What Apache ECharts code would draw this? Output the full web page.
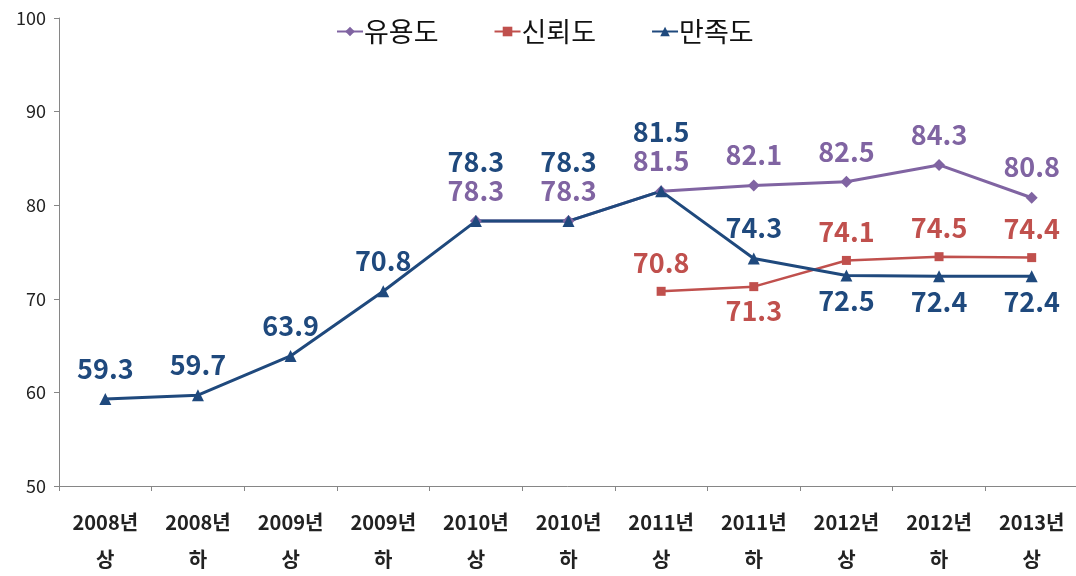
<!DOCTYPE html>
<html>
<head>
<meta charset="utf-8">
<script src="https://cdn.jsdelivr.net/npm/echarts@6/dist/echarts.min.js"></script>
<style>
  html, body { margin: 0; padding: 0; background: #fff; }
  #chart { width: 1076px; height: 576px; }
</style>
</head>
<body>
<div id="chart"></div>
<script>
// periods (year + half)
const years = ['2008년', '2008년', '2009년', '2009년', '2010년', '2010년', '2011년', '2011년', '2012년', '2012년', '2013년']
const halves = ['상', '하', '상', '하', '상', '하', '상', '하', '상', '하', '상']

const usefulness = [null, null, null, null, 78.3, 78.3, 81.5, 82.1, 82.5, 84.3, 80.8]   // 유용도
const trust = [null, null, null, null, null, null, 70.8, 71.3, 74.1, 74.5, 74.4]        // 신뢰도
const satisfaction = [59.3, 59.7, 63.9, 70.8, 78.3, 78.3, 81.5, 74.3, 72.5, 72.4, 72.4] // 만족도

const yTicks = [50, 60, 70, 80, 90, 100]

const categories = years.map((y, i) => y + '\n' + halves[i])

const FONT = '"Noto Sans CJK KR", "Noto Sans", sans-serif'
const PURPLE = '#8064a2'
const RED = '#c0504d'
const BLUE = '#1f497d'

// which labels sit below the point / get pushed up
const trustBelow = [7]
const satBelow = [8, 9, 10]
const satHigh = [4, 5, 6]

function labelStyle(color) {
  return {
    show: true,
    position: 'top',
    distance: 11,
    color: color,
    fontFamily: FONT,
    fontSize: 27,
    fontWeight: 'bold',
    formatter: (p) => p.value.toFixed(1)
  }
}

function toData(vals, below, high) {
  return vals.map((v, i) => {
    if (v == null) return null
    const d = { value: v }
    if (below && below.includes(i)) d.label = { position: 'bottom', distance: 6 }
    if (high && high.includes(i)) d.label = { distance: 40 }
    return d
  })
}

const chart = echarts.init(document.getElementById('chart'))

chart.setOption({
  backgroundColor: '#fff',
  animation: false,
  textStyle: { fontFamily: FONT },
  legend: {
    top: 13,
    left: 331,
    itemWidth: 26,
    itemHeight: 12,
    itemGap: 55,
    textStyle: { fontSize: 27, color: '#111', fontFamily: FONT, padding: [0, 0, 0, -4] },
    data: ['유용도', '신뢰도', '만족도']
  },
  grid: { left: 59, top: 18, width: 1019, height: 468, containLabel: false, outerBoundsMode: 'none' },
  xAxis: {
    type: 'category',
    data: categories,
    boundaryGap: true,
    axisLine: { lineStyle: { color: '#868686', width: 1 } },
    axisTick: { show: true, length: 5, lineStyle: { color: '#868686' } },
    axisLabel: {
      interval: 0,
      margin: 18,
      color: '#222',
      fontFamily: FONT,
      fontSize: 20,
      fontWeight: 'bold',
      lineHeight: 37
    }
  },
  yAxis: {
    type: 'value',
    min: yTicks[0],
    max: yTicks[yTicks.length - 1],
    interval: 10,
    axisLine: { show: true, lineStyle: { color: '#868686', width: 1 } },
    axisTick: { show: true, length: 5, lineStyle: { color: '#868686' } },
    splitLine: { show: false },
    axisLabel: { color: '#222', fontSize: 18, fontFamily: FONT, margin: 13 }
  },
  series: [
    {
      name: '유용도',
      type: 'line',
      data: toData(usefulness),
      symbol: 'diamond',
      symbolSize: 12,
      lineStyle: { color: PURPLE, width: 3 },
      itemStyle: { color: PURPLE },
      label: labelStyle(PURPLE)
    },
    {
      name: '신뢰도',
      type: 'line',
      data: toData(trust, trustBelow),
      symbol: 'rect',
      symbolSize: 9,
      lineStyle: { color: RED, width: 2.5 },
      itemStyle: { color: RED },
      label: labelStyle(RED)
    },
    {
      name: '만족도',
      type: 'line',
      data: toData(satisfaction, satBelow, satHigh),
      symbol: 'triangle',
      symbolSize: 12,
      lineStyle: { color: BLUE, width: 3 },
      itemStyle: { color: BLUE },
      label: labelStyle(BLUE)
    }
  ]
})
</script>
</body>
</html>
